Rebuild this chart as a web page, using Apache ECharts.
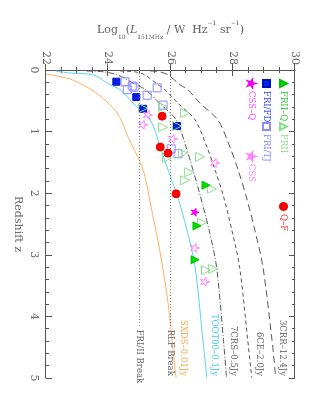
<!DOCTYPE html>
<html>
<head>
<meta charset="utf-8">
<title>Radio sources L-z</title>
<script src="https://cdn.jsdelivr.net/npm/echarts@6/dist/echarts.min.js"></script>
<style>
  html, body { margin: 0; padding: 0; background: #fff; overflow: hidden; }
  /* the figure is drawn upright and then turned a quarter clockwise */
  #chart { position: absolute; left: 320px; top: 0; width: 400px; height: 320px;
           transform-origin: 0 0; transform: rotate(90deg); }
</style>
</head>
<body>
<div id="chart"></div>
<script>
// [redshift, log10 L151]
var friiQ = [[1.87, 27.14], [2.53, 26.85], [3.08, 26.79]];
var frii = [[0.60, 25.76], [0.62, 25.12], [0.70, 26.47], [0.93, 25.76], [0.91, 26.21],
            [1.43, 25.89], [1.35, 26.40], [1.41, 26.95], [1.66, 26.60], [1.79, 26.47],
            [1.93, 27.33], [2.48, 27.01], [3.25, 27.14], [3.23, 27.37]];
var friFD = [[0.19, 24.26], [0.44, 24.90], [0.63, 25.12], [0.91, 26.21]];
var friTJ = [[0.19, 24.54], [0.26, 24.77], [0.32, 24.61], [0.28, 24.83], [0.41, 25.25],
             [0.29, 25.57], [0.57, 25.76], [1.28, 26.02], [1.36, 26.24]];
var cssQ = [[2.31, 26.79]];
var css = [[0.73, 25.28], [0.89, 25.12], [1.12, 26.08], [1.51, 27.43], [2.89, 26.79], [3.44, 27.11]];
var qf = [[0.75, 25.73], [1.25, 25.67], [1.35, 25.92], [2.01, 26.18]];

// survey flux limits
var sxds = [[0.065, 22.0], [0.11, 22.46], [0.16, 22.85], [0.36, 23.58], [0.70, 24.29], [1.09, 24.64],
            [1.62, 25.12], [2.16, 25.35], [2.97, 25.67], [3.78, 25.92], [4.55, 26.08], [5.0, 26.18]];
var toot = [[0.016, 22.3], [0.05, 22.78], [0.08, 23.52], [0.24, 24.06], [0.32, 24.38], [0.54, 24.80],
            [0.81, 25.35], [1.25, 25.67], [1.62, 25.92], [2.03, 26.21], [2.60, 26.53], [3.20, 26.79],
            [4.38, 27.04], [5.0, 27.17]];
var crs7 = [[0.016, 23.3], [0.03, 23.85], [0.08, 24.3], [0.24, 24.9], [0.32, 25.2], [0.54, 25.65],
            [0.81, 26.18], [1.25, 26.5], [1.62, 26.72], [2.03, 26.95], [2.60, 27.24], [3.20, 27.48],
            [4.38, 27.7], [5.0, 27.8]];
var ce6 = [[0.016, 24.38], [0.03, 24.86], [0.08, 25.18], [0.24, 25.60], [0.32, 25.82], [0.54, 26.24],
           [0.81, 26.79], [1.25, 27.17], [1.62, 27.43], [2.03, 27.69], [2.60, 27.97], [3.20, 28.22],
           [4.38, 28.48], [5.0, 28.61]];
var crr3 = [[0.016, 25.34], [0.03, 25.66], [0.08, 25.92], [0.24, 26.31], [0.32, 26.56], [0.54, 26.95],
            [0.81, 27.52], [1.25, 27.91], [1.62, 28.17], [2.03, 28.42], [2.60, 28.71], [3.20, 28.97],
            [4.38, 29.26], [5.0, 29.38]];
var breakL = [25, 26];
var breakNames = ['FRI/II Break', 'RLF Break'];
var breakEndZ = 4.15;

var serif = 'DejaVu Serif';
var grey = '#666';
var star = 'path://M50,0 L61,35 L98,35 L68,57 L79,91 L50,70 L21,91 L32,57 L2,35 L39,35 Z';

var chart = echarts.init(document.getElementById('chart'));

function curve(name, data, color, type, labelColor) {
  return {
    name: name, type: 'line', data: data, showSymbol: false, smooth: 0.3, silent: true,
    lineStyle: { color: color, width: 1, type: type },
    markPoint: {
      symbol: 'circle', symbolSize: 0, silent: true,
      data: [{ coord: data[data.length - 1] }],
      label: { show: true, position: 'left', distance: 2, offset: [0, -7], formatter: name,
               color: labelColor, fontSize: 8.5, fontFamily: serif }
    }
  };
}

function points(name, data, symbol, size, fill, border, z) {
  return {
    name: name, type: 'scatter', data: data, symbol: symbol, symbolSize: size, z: z,
    itemStyle: { color: fill, borderColor: border, borderWidth: 1, opacity: 1 }
  };
}

function legendAt(name, x, y, textColor) {
  return {
    data: [{ name: name, textStyle: { color: textColor } }],
    left: x, top: y, padding: 0, itemWidth: 7, itemHeight: 7, itemGap: 0,
    selectedMode: false,
    textStyle: { fontFamily: serif, fontSize: 8.5, padding: [0, 0, 0, -1] }
  };
}

var axisCol = '#555';

var breakLines = breakL.map(function (v, i) {
  return [{ coord: [0, v] }, { coord: [breakEndZ, v],
           label: { formatter: breakNames[i] } }];
});

var option = {
  animation: false,
  grid: { left: 70, right: 22, top: 25, bottom: 46 },
  legend: [
    legendAt('FRII–Q', 79, 32, '#33cc33'),
    legendAt('FRII', 122, 32, '#8fdd8f'),
    legendAt('Q–F', 202, 32, '#ff3333'),
    legendAt('FRI/FD', 79, 49, '#3344ee'),
    legendAt('FRI/TJ', 122, 49, '#8888ff'),
    legendAt('CSS–Q', 79, 64, '#ff44ff'),
    legendAt('CSS', 152, 64, '#ff88ff')
  ],
  xAxis: [{
    type: 'value', min: 0, max: 5, interval: 1, position: 'bottom',
    name: 'Redshift z', nameLocation: 'middle', nameGap: 21,
    nameTextStyle: { fontFamily: serif, fontSize: 11, color: grey },
    axisLine: { lineStyle: { color: axisCol, width: 1 } },
    axisTick: { inside: true, length: 6, lineStyle: { color: axisCol } },
    minorTick: { show: true, splitNumber: 5, length: 3, lineStyle: { color: axisCol } },
    splitLine: { show: false },
    axisLabel: { margin: 7, fontFamily: serif, fontSize: 11, color: grey }
  }, {
    type: 'value', min: 0, max: 5, interval: 1, position: 'top',
    axisLine: { lineStyle: { color: axisCol, width: 1 } },
    axisTick: { inside: true, length: 6, lineStyle: { color: axisCol } },
    minorTick: { show: true, splitNumber: 5, length: 3, lineStyle: { color: axisCol } },
    splitLine: { show: false }, axisLabel: { show: false }
  }],
  yAxis: [{
    type: 'value', min: 22, max: 30, interval: 2, position: 'left',
    name: '{a|Log}{s|10}{a|(}{i|L}{s|151MHz}{a| / W  Hz}{p|−1}{a| sr}{p|−1}{a|)}',
    nameLocation: 'middle', nameRotate: 90, nameGap: 7,
    nameTextStyle: {
      color: grey,
      rich: {
        a: { fontFamily: serif, fontSize: 11, color: grey, lineHeight: 16 },
        i: { fontFamily: serif, fontSize: 11, fontStyle: 'italic', color: grey, lineHeight: 16 },
        s: { fontFamily: serif, fontSize: 6, color: grey, verticalAlign: 'bottom', lineHeight: 12 },
        p: { fontFamily: serif, fontSize: 6, color: grey, verticalAlign: 'top', lineHeight: 20 }
      }
    },
    axisLine: { lineStyle: { color: axisCol, width: 1 } },
    axisTick: { inside: true, length: 6, lineStyle: { color: axisCol } },
    minorTick: { show: true, splitNumber: 4, length: 3, lineStyle: { color: axisCol } },
    splitLine: { show: false },
    axisLabel: { margin: 5, fontFamily: serif, fontSize: 11, color: grey }
  }, {
    type: 'value', min: 22, max: 30, interval: 2, position: 'right',
    axisLine: { lineStyle: { color: axisCol, width: 1 } },
    axisTick: { inside: true, length: 6, lineStyle: { color: axisCol } },
    minorTick: { show: true, splitNumber: 4, length: 3, lineStyle: { color: axisCol } },
    splitLine: { show: false }, axisLabel: { show: false }
  }],
  series: [
    curve('SXDS–0.01Jy', sxds, '#ffb060', 'solid', '#f5a850'),
    curve('TOOT00–0.1Jy', toot, '#55d4f4', 'solid', '#44c8ee'),
    curve('7CRS–0.5Jy', crs7, '#555', [6, 2, 1, 2], grey),
    curve('6CE–2.0Jy', ce6, '#555', [4, 3], grey),
    curve('3CRR–12.4Jy', crr3, '#555', [7, 4], grey),
    {
      name: 'breaks', type: 'line', data: [], silent: true,
      markLine: {
        symbol: 'none', silent: true,
        lineStyle: { color: '#777', type: [1, 2], width: 1 },
        label: { position: 'end', distance: 4, color: grey, fontSize: 8.5, fontFamily: serif },
        data: breakLines
      }
    },
    points('FRI/TJ', friTJ, 'rect', 8, 'rgba(0,0,0,0)', '#8c8cff', 3),
    points('FRI/FD', friFD, 'rect', 7, '#0a1ee6', '#0010c0', 4),
    points('FRII', frii, 'triangle', 9, 'rgba(0,0,0,0)', '#88e088', 5),
    points('FRII–Q', friiQ, 'triangle', 8, '#00e000', '#00c000', 6),
    points('CSS', css, star, 9, 'rgba(0,0,0,0)', '#ff80ff', 7),
    points('CSS–Q', cssQ, star, 8, '#ff00ff', '#ee00ee', 8),
    points('Q–F', qf, 'circle', 8, '#ff0000', '#ee0000', 9)
  ]
};
chart.setOption(option);
</script>
</body>
</html>
